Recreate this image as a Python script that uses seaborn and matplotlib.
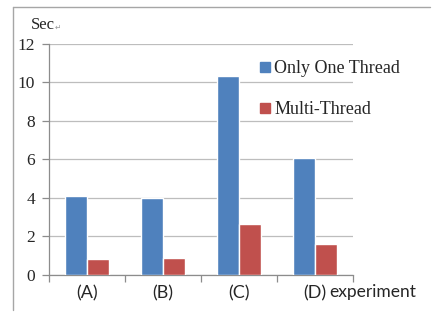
import matplotlib
matplotlib.use("Agg")
import matplotlib.pyplot as plt
from matplotlib.lines import Line2D
import pandas as pd
import seaborn as sns

# Run times per experiment (seconds)
experiments = ["(A)", "(B)", "(C)", "(D)"]
series_names = ["Only One Thread", "Multi-Thread"]
single_thread = [4.1, 4.0, 10.3, 6.05]
multi_thread = [0.82, 0.9, 2.63, 1.6]
y_ticks = [0, 2, 4, 6, 8, 10, 12]

colors = ["#4F81BD", "#C0504D"]

df = pd.DataFrame({
    "experiment": experiments * 2,
    "series": [series_names[0]] * len(experiments) + [series_names[1]] * len(experiments),
    "sec": single_thread + multi_thread,
})

sns.set_style("white")
plt.rcParams["font.family"] = ["Liberation Serif", "DejaVu Sans"]
cat_font = ["Lato", "DejaVu Sans"]

fig = plt.figure(figsize=(4.33, 3.2), dpi=100)
W, H = 433, 320
ax = fig.add_axes([49 / W, 1 - 275 / H, 304 / W, (275 - 43.5) / H])

sns.barplot(data=df, x="experiment", y="sec", hue="series", order=experiments,
            hue_order=series_names, palette=colors, width=0.57, gap=0,
            saturation=1, ax=ax, legend=False, errorbar=None, zorder=3)

ax.set_xlim(-0.5, len(experiments) - 0.5)
ax.set_ylim(0, 12)
ax.set_yticks(y_ticks)
ax.set_yticklabels([str(t) for t in y_ticks], fontsize=12.5)
ax.yaxis.grid(True, color="#BDBDBD", linewidth=0.9, zorder=0)
ax.set_axisbelow(True)
ax.tick_params(axis="y", left=True, length=5, color="#8C8C8C", pad=5, width=0.9)

# category ticks between groups, labels centred under each pair
ax.set_xticks(range(len(experiments)))
ax.set_xticklabels(experiments, family=cat_font, fontsize=13)
ax.set_xticks([i - 0.5 for i in range(len(experiments) + 1)], minor=True)
ax.tick_params(axis="x", which="major", bottom=False, pad=4)
ax.tick_params(axis="x", which="minor", bottom=True, length=5, color="#8C8C8C", width=0.9)

for side in ("top", "right"):
    ax.spines[side].set_visible(False)
for side in ("left", "bottom"):
    ax.spines[side].set_color("#8C8C8C")
    ax.spines[side].set_linewidth(0.9)

ax.set_xlabel("")
ax.set_ylabel("")
fig.text(329 / W, 1 - 292 / H, "experiment", family=cat_font,
         fontsize=12.5, ha="left", va="center")

# unit label
fig.text(31 / W, 1 - 25 / H, "Sec", fontsize=12, ha="left", va="center")
fig.text(55 / W, 1 - 27 / H, "\u21b5", family="DejaVu Sans", fontsize=5.5,
         color="#9A9A9A", ha="left", va="center")

handles = [Line2D([], [], marker="s", linestyle="none", markersize=6.5,
                  markerfacecolor=c, markeredgecolor=c) for c in colors]
fig.legend(handles, series_names, loc="upper left",
           bbox_to_anchor=(258 / W, 1 - 60 / H), frameon=False,
           fontsize=13, handletextpad=0.1, handlelength=0.8,
           labelspacing=1.35, borderaxespad=0, borderpad=0)

# frame lines along the top and left edges
fig.add_artist(Line2D([13 / W, 430 / W], [1 - 7 / H, 1 - 7 / H],
                      transform=fig.transFigure, color="#A6A6A6", linewidth=1))
fig.add_artist(Line2D([13 / W, 13 / W], [1 - 7 / H, 1 - 310 / H],
                      transform=fig.transFigure, color="#A6A6A6", linewidth=1))

fig.savefig("out.png", dpi=100)
